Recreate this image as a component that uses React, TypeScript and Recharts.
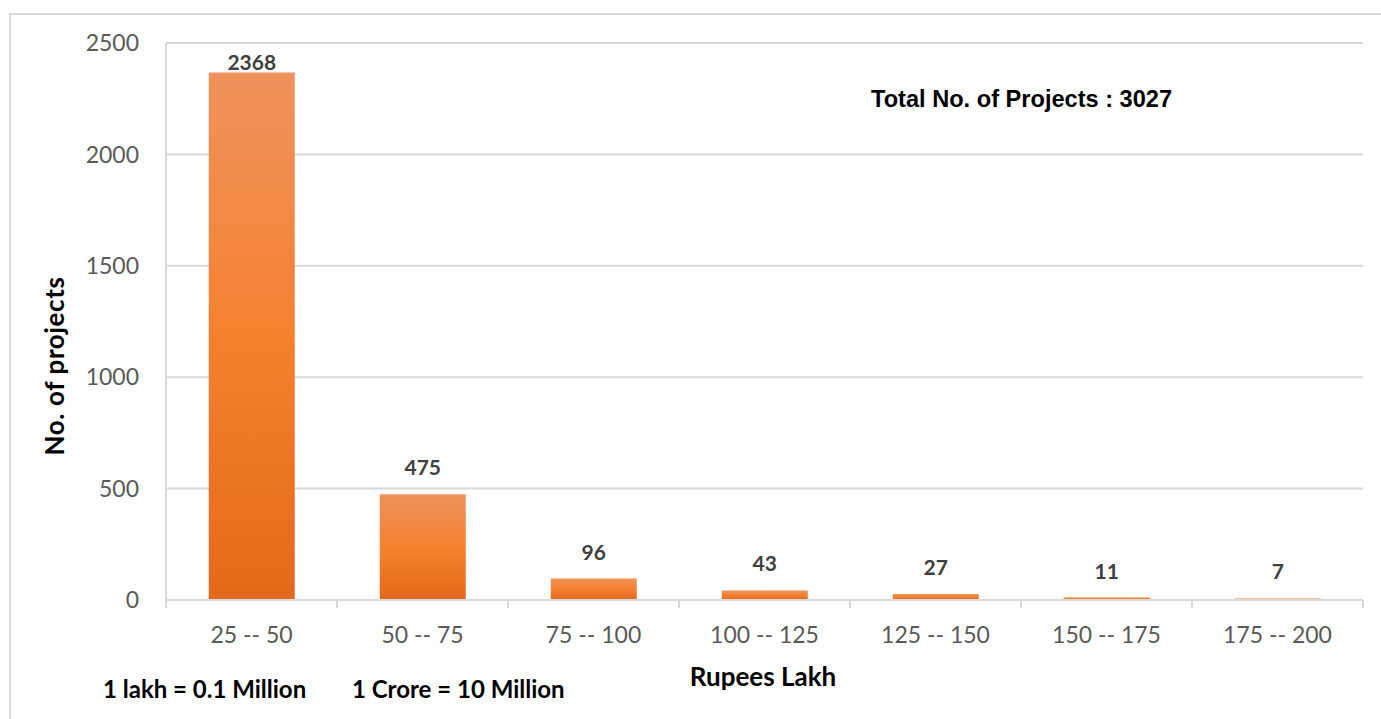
import React from 'react';
import { BarChart, Bar, XAxis, YAxis, CartesianGrid, LabelList, Rectangle } from 'recharts';

const categories = ['25 -- 50', '50 -- 75', '75 -- 100', '100 -- 125', '125 -- 150', '150 -- 175', '175 -- 200'];
const projects = [2368, 475, 96, 43, 27, 11, 7];
const yTicks = [0, 500, 1000, 1500, 2000, 2500];

const data = categories.map((name, i) => ({ name, value: projects[i] }));

const W = 1381;
const H = 719;
const PLOT_TOP = 43;
const AXIS_COLOR = '#d9d9d9';
const FONT = 'Lato, "Open Sans", sans-serif';

// x ticks sit between categories (excel style), labels stay centred
const XTick = (props: any) => {
  const { x, y, payload, index } = props;
  const off = payload && payload.offset != null ? payload.offset : 85.5;
  return (
    <g>
      <line x1={x - off} x2={x - off} y1={y} y2={y + 8} stroke={AXIS_COLOR} strokeWidth={2} />
      {index === categories.length - 1 && (
        <line x1={x + off} x2={x + off} y1={y} y2={y + 8} stroke={AXIS_COLOR} strokeWidth={2} />
      )}
      <text x={x} y={y + 43} textAnchor="middle" fill="#595959" fontSize={23} fontFamily={FONT}>
        {payload.value}
      </text>
    </g>
  );
};

const BarLabel = (props: any) => {
  const { x, y, width, value } = props;
  const ty = Math.max(y - 19, PLOT_TOP + 27);
  return (
    <text x={x + width / 2} y={ty} textAnchor="middle" fill="#404040" fontSize={21} fontWeight="bold" fontFamily={FONT}>
      {value}
    </text>
  );
};

// very thin bars lose the gradient, just paint them the mid orange
const BarShape = (props: any) => {
  const fill = props.height < 4 ? '#f47f2e' : 'url(#barFill)';
  return <Rectangle {...props} fill={fill} />;
};

const App = () => {
  return (
    <div style={{ position: 'absolute', left: 0, top: 0, width: W, height: H, overflow: 'hidden', background: '#fff' }}>
      <div style={{ position: 'absolute', left: 9, top: 13, width: W, height: H, border: `2px solid ${AXIS_COLOR}` }} />
      <BarChart
        width={W}
        height={H}
        data={data}
        margin={{ top: PLOT_TOP, right: 18, left: 0, bottom: 59 }}
        barCategoryGap="25%"
        style={{ position: 'absolute', left: 0, top: 0 }}
      >
        <defs>
          <linearGradient id="barFill" x1="0" y1="0" x2="0" y2="1">
            <stop offset="0%" stopColor="#f0925d" />
            <stop offset="50%" stopColor="#f5812f" />
            <stop offset="100%" stopColor="#e3691a" />
          </linearGradient>
        </defs>
        <CartesianGrid vertical={false} stroke={AXIS_COLOR} strokeWidth={2} />
        <XAxis
          dataKey="name"
          height={60}
          axisLine={{ stroke: AXIS_COLOR, strokeWidth: 2 }}
          tickLine={false}
          tickSize={0}
          tickMargin={0}
          interval={0}
          tick={<XTick />}
        />
        <YAxis
          width={166}
          domain={[0, 2500]}
          ticks={yTicks}
          axisLine={{ stroke: AXIS_COLOR, strokeWidth: 2 }}
          tickLine={false}
          tickSize={0}
          tickMargin={27}
          tick={{ fill: '#595959', fontSize: 23, fontFamily: FONT }}
        />
        <Bar dataKey="value" fill="url(#barFill)" shape={<BarShape />} isAnimationActive={false}>
          <LabelList dataKey="value" content={<BarLabel />} />
        </Bar>
      </BarChart>
      <svg width={W} height={H} style={{ position: 'absolute', left: 0, top: 0, pointerEvents: 'none' }}>
        <text x={871} y={107} fontSize={23.6} fontWeight="bold" fontFamily='"Liberation Sans", Arial, sans-serif' fill="#000">
          Total No. of Projects : 3027
        </text>
        <text
          x={55}
          y={366}
          dy="0.35em"
          textAnchor="middle"
          transform="rotate(-90, 55, 366)"
          fontSize={26}
          letterSpacing={0.6}
          fontWeight="bold"
          fontFamily={FONT}
          fill="#000"
        >
          No. of projects
        </text>
        <text x={763} y={686} textAnchor="middle" fontSize={26} fontWeight="bold" fontFamily={FONT} fill="#000">
          Rupees Lakh
        </text>
        <text x={103} y={698} fontSize={24} fontWeight="bold" fontFamily={FONT} fill="#000">
          1 lakh = 0.1 Million
        </text>
        <text x={352} y={698} fontSize={24} fontWeight="bold" fontFamily={FONT} fill="#000">
          1 Crore = 10 Million
        </text>
      </svg>
    </div>
  );
};

export default App;
